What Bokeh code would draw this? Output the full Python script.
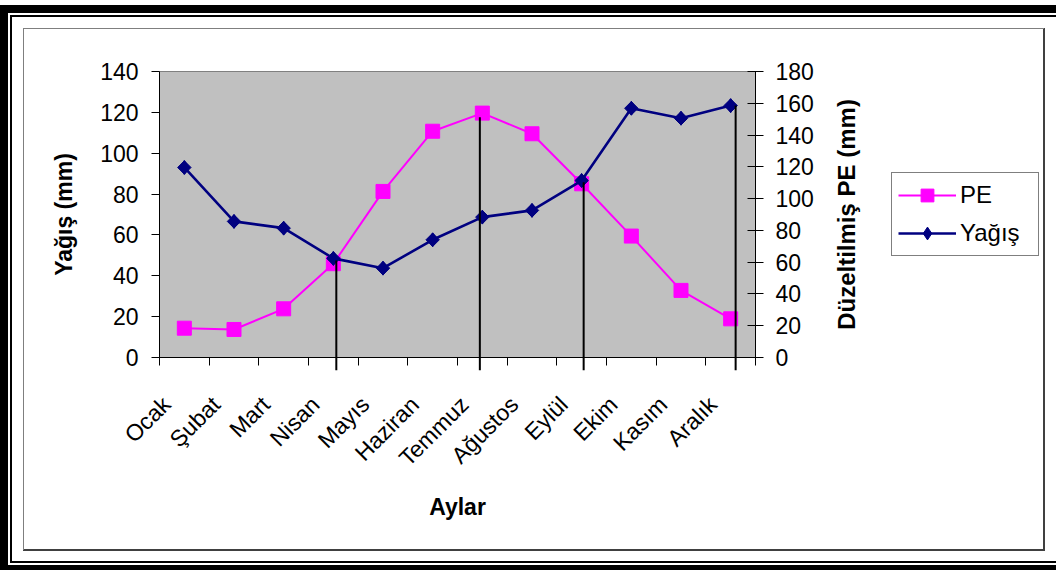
import math
from bokeh.plotting import figure
from bokeh.models import (Range1d, LinearAxis, FixedTicker, Legend, LegendItem,
                          ColumnDataSource, Label)
from bokeh.embed import file_html
from bokeh.resources import INLINE

# ---------------- data ----------------
months = ["Ocak", "Şubat", "Mart", "Nisan", "Mayıs", "Haziran", "Temmuz",
          "Ağustos", "Eylül", "Ekim", "Kasım", "Aralık"]
yagis = [93.0, 66.6, 63.3, 48.5, 43.7, 57.6, 68.7, 72.0, 86.6, 122.0, 117.1, 123.3]
pe = [18.4, 17.6, 30.6, 59.0, 104.5, 142.4, 153.8, 140.8, 109.3, 76.4, 42.2, 24.3]
left_ticks = [0, 20, 40, 60, 80, 100, 120, 140]
right_ticks = [0, 20, 40, 60, 80, 100, 120, 140, 160, 180]
# hand-drawn vertical marker lines (month position, top value on left axis)
marker_pos = [3.56, 6.45, 8.54, 11.6]
marker_top = [47.5, 117.6, 85.8, 123.4]
marker_bottom = -6.4

FONT = "Liberation Sans"
W, H = 1056, 570
FL, FR, FT, FB = 159, 755, 71, 357          # plot-area edges (px)
OV_R = 1040                                   # overlay frame right edge (px)
NX = len(months)
YMAX, PEMAX = 140, 180

centers = [i + 0.5 for i in range(NX)]
bounds = list(range(NX + 1))
label_shift = 0.36   # slanted labels end a little left of the category centre
label_pos = [c - label_shift for c in centers]

# decorative page frame, drawn as CSS background layers
def bar(x, y, w, h, c):
    return f"linear-gradient({c},{c}) {x}px {y}px / {w}px {h}px no-repeat"

layers = [
    bar(0, 5, 1056, 8, "#000"),
    bar(0, 5, 8, 565, "#000"),
    bar(0, 565, 1056, 5, "#000"),
    bar(10, 15, 1046, 2, "#000"),
    bar(10, 15, 2, 548, "#000"),
    bar(10, 561, 1046, 2, "#000"),
    bar(23, 28, 1021, 1, "#7f7f7f"),
    bar(23, 28, 1, 522, "#7f7f7f"),
    bar(1043, 28, 2, 523, "#404040"),
    bar(23, 549, 1022, 2, "#404040"),
]
ABS = {"position": "absolute", "left": "0px", "top": "0px"}

# ================= main figure: plot area + axes =================
p = figure(width=W, height=H, output_backend="svg", toolbar_location=None,
           x_range=Range1d(0, NX), y_range=Range1d(0, YMAX),
           min_border_left=FL, min_border_right=W - FR,
           min_border_top=FT, min_border_bottom=H - FB,
           x_axis_location=None, y_axis_location=None,
           styles=dict(ABS, background=", ".join(layers) + ", #ffffff"))
p.border_fill_color = None
p.background_fill_color = "#C0C0C0"
p.outline_line_color = "#808080"
p.outline_line_width = 1
p.grid.visible = False
p.extra_y_ranges = {"pe": Range1d(0, PEMAX)}

xaxis = LinearAxis(ticker=FixedTicker(ticks=label_pos, minor_ticks=bounds),
                   major_label_overrides={c: m for c, m in zip(label_pos, months)})
xaxis.major_tick_out = 0
xaxis.major_tick_in = 0
xaxis.minor_tick_out = 8
xaxis.minor_tick_in = 0
xaxis.minor_tick_line_color = "black"
xaxis.axis_line_color = "black"
xaxis.major_label_orientation = math.pi / 4
xaxis.major_label_standoff = 35
xaxis.major_label_text_font = FONT
xaxis.major_label_text_font_size = "23px"
xaxis.major_label_text_color = "black"
xaxis.axis_label = "Aylar"
xaxis.axis_label_text_font = FONT
xaxis.axis_label_text_font_size = "23px"
xaxis.axis_label_text_font_style = "bold"
xaxis.axis_label_text_color = "black"
xaxis.axis_label_standoff = 11
p.add_layout(xaxis, "below")

yaxis = LinearAxis(ticker=FixedTicker(ticks=left_ticks))
yaxis.major_tick_out = 8
yaxis.major_tick_in = 0
yaxis.minor_tick_out = 0
yaxis.minor_tick_in = 0
yaxis.major_label_standoff = 13
yaxis.axis_line_color = "black"
yaxis.major_tick_line_color = "black"
yaxis.major_label_text_font = FONT
yaxis.major_label_text_font_size = "23px"
yaxis.major_label_text_color = "black"
yaxis.axis_label = "Yağış (mm)"
yaxis.axis_label_text_font = FONT
yaxis.axis_label_text_font_size = "23px"
yaxis.axis_label_text_font_style = "bold"
yaxis.axis_label_text_color = "black"
yaxis.axis_label_standoff = 20
p.add_layout(yaxis, "left")

raxis = LinearAxis(y_range_name="pe", ticker=FixedTicker(ticks=right_ticks))
raxis.major_tick_out = 8
raxis.major_tick_in = 8
raxis.minor_tick_out = 0
raxis.minor_tick_in = 0
raxis.major_label_standoff = 12
raxis.axis_line_color = "black"
raxis.major_tick_line_color = "black"
raxis.major_label_text_font = FONT
raxis.major_label_text_font_size = "23px"
raxis.major_label_text_color = "black"
p.add_layout(raxis, "right")

# ================= overlay figure: series, marker lines, legend =================
px_per_x = (FR - FL) / NX
px_per_y = (FB - FT) / YMAX
ov_xmax = (OV_R - FL) / px_per_x
ov_bottom_px = FB + (0 - marker_bottom) * px_per_y

ov = figure(width=W, height=H, output_backend="svg", toolbar_location=None,
            x_range=Range1d(0, ov_xmax), y_range=Range1d(marker_bottom, YMAX),
            min_border_left=FL, min_border_right=W - OV_R,
            min_border_top=FT, min_border_bottom=int(round(H - ov_bottom_px)),
            x_axis_location=None, y_axis_location=None, styles=ABS)
ov.border_fill_color = None
ov.background_fill_color = None
ov.outline_line_color = None
ov.grid.visible = False
ov.extra_y_ranges = {"pe": Range1d(marker_bottom * PEMAX / YMAX, PEMAX)}

src = ColumnDataSource(dict(x=centers, pe=pe, yagis=yagis))
pe_line = ov.line("x", "pe", source=src, y_range_name="pe",
                  line_color="#FF00FF", line_width=2)
pe_pts = ov.scatter("x", "pe", source=src, y_range_name="pe", marker="square",
                    size=14, fill_color="#FF00FF", line_color="#FF00FF")
y_line = ov.line("x", "yagis", source=src, line_color="#000080", line_width=2.6)
# diamond used as the legend key; drawn under the (rotated-square) data markers
y_key = ov.scatter("x", "yagis", source=src, marker="diamond", size=14,
                   fill_color="#000080", line_color="#000080")
y_pts = ov.scatter("x", "yagis", source=src, marker="square", angle=math.pi / 4,
                   size=9.5, fill_color="#000080", line_color="#000080")

ov.segment(x0=marker_pos, y0=[marker_bottom] * len(marker_pos),
           x1=marker_pos, y1=marker_top, line_color="black", line_width=2)

# right axis title (reads bottom to top)
ov.add_layout(Label(x=(846 - FL) / px_per_x, y=YMAX / 2, text="Düzeltilmiş PE (mm)",
                    angle=90, angle_units="deg", text_align="center",
                    text_baseline="middle", text_font=FONT, text_font_size="24px",
                    text_font_style="bold", text_color="black"))

legend = Legend(items=[LegendItem(label="PE", renderers=[pe_line, pe_pts]),
                       LegendItem(label="Yağış", renderers=[y_line, y_key])],
                location=(891 - FL, int(round(ov_bottom_px - 256))),
                orientation="vertical",
                border_line_color="black", border_line_width=1,
                background_fill_color="white", background_fill_alpha=1,
                padding=6, spacing=6, margin=0,
                glyph_width=58, glyph_height=32, label_height=32,
                label_width=72, label_standoff=4, label_text_font=FONT,
                label_text_font_size="24px", label_text_color="black")
ov.add_layout(legend, "center")

open("out.html", "w").write(file_html([p, ov], INLINE))
